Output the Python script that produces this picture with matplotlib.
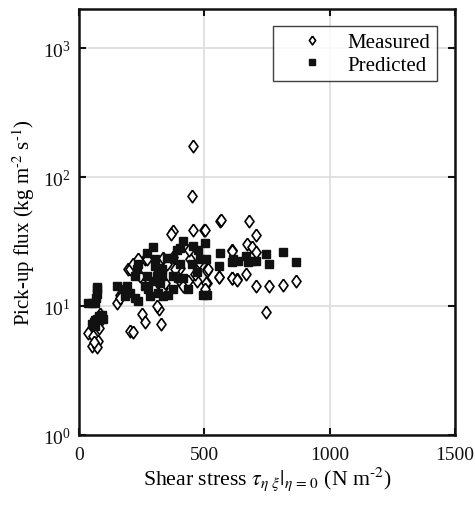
import matplotlib
matplotlib.use("Agg")
import matplotlib.pyplot as plt

plt.rcParams['font.family'] = ['Liberation Serif', 'DejaVu Serif']
plt.rcParams['mathtext.fontset'] = 'stix'

# Measured (diamonds)
meas_x = [455, 452, 376, 367, 456, 500, 563, 609, 559, 609, 629, 509, 509, 503,
          84, 71, 37, 57, 77, 51, 71, 150, 203, 60, 88, 80,
          503, 565, 679, 707, 672, 689, 707, 609, 512, 507, 503, 559, 609, 630,
          666, 707, 756, 813, 865, 746,
          163, 214, 250, 263, 326, 319, 310, 277, 297, 336, 343, 350, 403, 416,
          436, 469, 463, 479, 516, 443, 440, 403, 243, 223, 196, 163, 263, 336,
          376, 383, 203, 216, 236, 270]
meas_y = [175, 71, 38, 36, 39, 39, 46, 27, 16.9, 16.6, 16.1, 15.2, 19.2, 13,
          8.6, 7.4, 6.2, 5.9, 5.4, 4.9, 4.8, 10.6, 6.4, 5.3, 7.8, 6.7,
          39.2, 46.4, 45.5, 35.7, 30.2, 28.6, 26.3, 26.8, 18.7, 15.1, 13.5, 16.8, 16.5, 15.9,
          17.6, 14.3, 14.3, 14.5, 15.6, 9.0,
          12.2, 6.3, 8.6, 7.5, 7.2, 9.5, 10, 15.1, 13.9, 13.9, 15.1, 21, 15.6, 14.3,
          15.6, 15.6, 17.6, 22, 19.2, 23, 27, 19.8, 17, 20.4, 19.2, 11.6, 23, 23.7,
          24, 19.2, 19.5, 21, 23, 23]

# Predicted (squares)
pred_x = [37, 50, 62, 68, 70, 72, 73, 50, 58, 65, 72, 80, 62, 90, 95,
          150, 170, 190, 183, 203, 223, 236, 223, 230, 236, 270, 294, 270, 263, 277,
          283, 303, 303, 316, 310, 297, 323, 330, 316, 336, 356, 376, 330, 350, 376,
          390, 403, 416, 403, 376, 396, 416, 436, 450, 456, 476, 483, 469, 503, 507,
          496, 509, 563, 559, 616, 636, 610, 666, 676, 689, 707, 746, 756, 813, 865]
pred_y = [10.5, 10.5, 10.6, 11.5, 12.5, 13.5, 14, 7.2, 7.5, 7.8, 8.0, 8.3, 7.0, 8.5, 8.0,
          14.3, 13.5, 14.3, 11.9, 12.7, 11.6, 11, 17, 19.2, 21, 25.9, 28.8, 17, 14.3, 13.5,
          11.9, 23, 20.4, 19.8, 17, 15.6, 15.1, 17, 12.7, 11.9, 12.2, 13.5, 19.2, 23.7, 23.7,
          27.4, 28.2, 31.8, 21, 17, 16.4, 16.4, 13.5, 21, 29.1, 27.4, 23, 18.4, 30.9, 23,
          12.2, 12.2, 25.9, 20.4, 23, 22.5, 21.8, 24.3, 21.8, 22.5, 22.5, 25.4, 21, 26.3, 21.8]

x_ticks = [0, 500, 1000, 1500]
y_ticks = [1, 10, 100, 1000]

diamond = [(0, 1), (0.72, 0), (0, -1), (-0.72, 0), (0, 1)]

fig = plt.figure(figsize=(4.75, 5.1), dpi=100)
ax = fig.add_axes([0.1663, 0.145, 0.7916, 0.835])

ax.plot(meas_x, meas_y, linestyle='none', marker=diamond, markersize=9,
        markerfacecolor='white', markeredgecolor='black', markeredgewidth=1.2,
        label='Measured', zorder=3)
ax.plot(pred_x, pred_y, linestyle='none', marker='s', markersize=5.3,
        markerfacecolor='#111111', markeredgecolor='#111111',
        label='Predicted', zorder=3)

ax.set_yscale('log')
ax.set_xlim(0, 1500)
ax.set_ylim(1, 2000)
ax.set_xticks(x_ticks)
ax.set_yticks(y_ticks)
ax.set_xticklabels([str(t) for t in x_ticks])
ax.yaxis.set_minor_locator(matplotlib.ticker.NullLocator())
ax.grid(True, color='#dddddd', linewidth=1.2, zorder=0)
ax.set_axisbelow(True)

for s in ax.spines.values():
    s.set_linewidth(1.8)
    s.set_color('#111111')
ax.tick_params(direction='in', length=5, width=1.5, top=True, right=True,
               labelsize=14, pad=6, colors='#111111')
ax.tick_params(axis='x', pad=8)

ax.set_xlabel(r'Shear stress $\tau_{\eta\ \xi}|_{\eta\,=\,0}$ (N m$^{\text{-2}}$)',
              fontsize=15.7, labelpad=1)
ax.set_ylabel(r'Pick-up flux (kg m$^{\text{-2}}$ s$^{\text{-1}}$)', fontsize=15, labelpad=4)

leg = ax.legend(loc='upper right', bbox_to_anchor=(0.952, 0.960), borderaxespad=0,
                fontsize=15, frameon=True, fancybox=False, edgecolor='#111111',
                handletextpad=0.1, borderpad=0.3, labelspacing=0.15,
                handlelength=3.2, markerscale=0.7)
leg.get_frame().set_linewidth(1.0)

fig.savefig('out.png', dpi=100)
